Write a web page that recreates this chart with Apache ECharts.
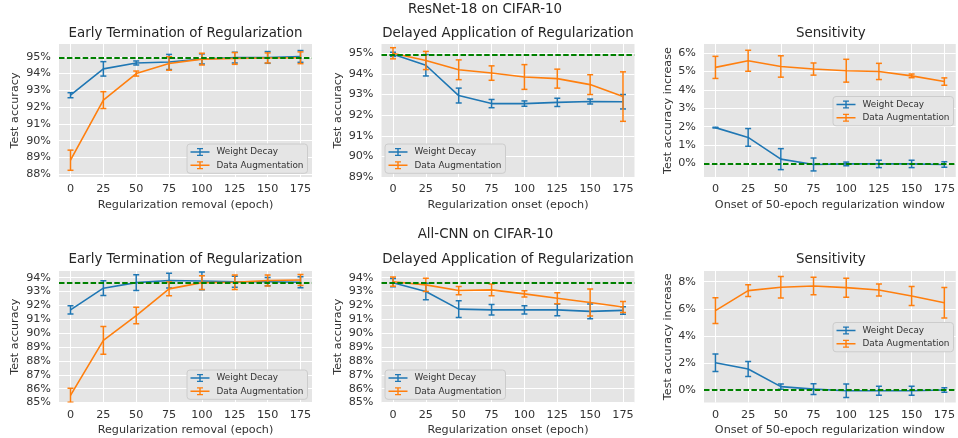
<!DOCTYPE html>
<html><head><meta charset="utf-8">
<script src="https://cdn.jsdelivr.net/npm/echarts@6/dist/echarts.min.js"></script>
<style>html,body{margin:0;padding:0;background:#fff}#c{width:958px;height:438px}</style>
</head><body><div id="c"></div><script>
// ---------- data ----------
const epochs = [0, 25, 50, 75, 100, 125, 150, 175];
const seriesNames = ['Weight Decay', 'Data Augmentation'];
const suptitles = ['ResNet-18 on CIFAR-10', 'All-CNN on CIFAR-10'];
const panelTitles = ['Early Termination of Regularization', 'Delayed Application of Regularization', 'Sensitivity'];
const xNames = ['Regularization removal (epoch)', 'Regularization onset (epoch)', 'Onset of 50-epoch regularization window'];
const yNames = ['Test accuracy', 'Test accuracy', 'Test accuracy increase'];

// ResNet-18
const resnetBaseline = 94.95;
const rEarlyWd = [92.71, 94.28, 94.63, 94.69, 94.87, 94.95, 94.96, 95.02];
const rEarlyWdErr = [0.15, 0.43, 0.12, 0.45, 0.3, 0.32, 0.35, 0.35];
const rEarlyDa = [88.84, 92.42, 94.0, 94.6, 94.86, 94.9, 94.93, 94.94];
const rEarlyDaErr = [0.6, 0.5, 0.15, 0.4, 0.35, 0.35, 0.3, 0.35];
const rDelayWd = [94.95, 94.42, 92.95, 92.56, 92.56, 92.62, 92.66, 92.65];
const rDelayWdErr = [0.1, 0.52, 0.36, 0.2, 0.13, 0.2, 0.12, 0.35];
const rDelayDa = [95.0, 94.65, 94.2, 94.04, 93.85, 93.77, 93.48, 92.9];
const rDelayDaErr = [0.27, 0.44, 0.48, 0.35, 0.6, 0.46, 0.48, 1.2];
const rSensWd = [1.95, 1.42, 0.24, -0.05, -0.02, -0.02, -0.02, -0.05];
const rSensWdErr = [0.02, 0.48, 0.57, 0.35, 0.1, 0.2, 0.2, 0.15];
const rSensDa = [5.22, 5.58, 5.27, 5.13, 5.04, 5.0, 4.76, 4.45];
const rSensDaErr = [0.6, 0.57, 0.58, 0.33, 0.62, 0.44, 0.1, 0.2];

// All-CNN
const allcnnBaseline = 93.64;
const aEarlyWd = [91.68, 93.24, 93.64, 93.79, 93.76, 93.71, 93.71, 93.67];
const aEarlyWdErr = [0.3, 0.53, 0.57, 0.53, 0.64, 0.4, 0.3, 0.4];
const aEarlyDa = [85.52, 89.48, 91.27, 93.19, 93.64, 93.67, 93.79, 93.83];
const aEarlyDaErr = [0.5, 1.0, 0.6, 0.5, 0.5, 0.53, 0.4, 0.4];
const aDelayWd = [93.64, 93.0, 91.73, 91.68, 91.68, 91.68, 91.57, 91.64];
const aDelayWdErr = [0.3, 0.6, 0.6, 0.38, 0.3, 0.43, 0.53, 0.27];
const aDelayDa = [93.71, 93.48, 93.07, 93.12, 92.83, 92.52, 92.21, 91.88];
const aDelayDaErr = [0.33, 0.48, 0.3, 0.42, 0.22, 0.4, 0.98, 0.4];
const aSensWd = [2.02, 1.55, 0.25, 0.07, -0.05, -0.05, -0.05, 0.0];
const aSensWdErr = [0.65, 0.55, 0.2, 0.4, 0.5, 0.33, 0.33, 0.17];
const aSensDa = [5.86, 7.34, 7.59, 7.68, 7.56, 7.39, 6.95, 6.45];
const aSensDaErr = [0.95, 0.43, 0.8, 0.65, 0.7, 0.44, 0.7, 1.13];

// tick labels
const xTicks = [0, 25, 50, 75, 100, 125, 150, 175];
const rEarlyTicks = [88, 89, 90, 91, 92, 93, 94, 95];
const rDelayTicks = [89, 90, 91, 92, 93, 94, 95];
const rSensTicks = [0, 1, 2, 3, 4, 5, 6];
const aAccTicks = [85, 86, 87, 88, 89, 90, 91, 92, 93, 94];
const aSensTicks = [0, 2, 4, 6, 8];

// ---------- layout / style ----------
const FONT = 'DejaVu Sans';
const BLUE = '#1f77b4', ORANGE = '#ff7f0e', GREEN = '#008000';
const TXT = '#333333';
const ICON = 'path://M0,3.3h19v1.4h-19z M8.8,0h1.4v8h-1.4z M6.5,0h6v1.2h-6z M6.5,6.8h6v1.2h-6z';

const panels = [
  {g:[59, 44, 253, 133], y:[87.84, 95.76], yt:rEarlyTicks, t:0, base:resnetBaseline, wd:rEarlyWd, wde:rEarlyWdErr, da:rEarlyDa, dae:rEarlyDaErr, lg:[187, 144], ng:38},
  {g:[381.5, 44, 253, 133], y:[89.0, 95.45], yt:rDelayTicks, t:1, base:resnetBaseline, wd:rDelayWd, wde:rDelayWdErr, da:rDelayDa, dae:rDelayDaErr, lg:[385, 144], ng:37.5},
  {g:[704, 44, 253.5, 133], y:[-0.73, 6.49], yt:rSensTicks, t:2, base:0, wd:rSensWd, wde:rSensWdErr, da:rSensDa, dae:rSensDaErr, lg:[833, 96.5], ng:30},
  {g:[59, 271, 253, 131.5], y:[85.0, 94.48], yt:aAccTicks, t:0, base:allcnnBaseline, wd:aEarlyWd, wde:aEarlyWdErr, da:aEarlyDa, dae:aEarlyDaErr, lg:[187, 370], ng:38},
  {g:[381.5, 271, 253, 131.5], y:[85.0, 94.48], yt:aAccTicks, t:1, base:allcnnBaseline, wd:aDelayWd, wde:aDelayWdErr, da:aDelayDa, dae:aDelayDaErr, lg:[385, 370], ng:37.5},
  {g:[704, 271, 253.5, 131.5], y:[-0.92, 8.79], yt:aSensTicks, t:2, base:0, wd:aSensWd, wde:aSensWdErr, da:aSensDa, dae:aSensDaErr, lg:[833, 322.5], ng:30}
];

const grids = [], xAxes = [], yAxes = [], series = [], legends = [], graphics = [];

function errRender(color) {
  return function (params, api) {
    const x = api.value(0), y = api.value(1), e = api.value(2);
    const top = api.coord([x, y + e]);
    const bot = api.coord([x, y - e]);
    const cap = 3;
    const st = {stroke: color, lineWidth: 1.5};
    return {type: 'group', children: [
      {type: 'line', shape: {x1: top[0], y1: top[1], x2: bot[0], y2: bot[1]}, style: st},
      {type: 'line', shape: {x1: top[0] - cap, y1: top[1], x2: top[0] + cap, y2: top[1]}, style: st},
      {type: 'line', shape: {x1: bot[0] - cap, y1: bot[1], x2: bot[0] + cap, y2: bot[1]}, style: st}
    ]};
  };
}

panels.forEach((p, i) => {
  grids.push({left: p.g[0], top: p.g[1], width: p.g[2], height: p.g[3], show: true,
    backgroundColor: '#E5E5E5', borderWidth: 0, containLabel: false});
  xAxes.push({type: 'value', gridIndex: i, min: -8.75, max: 183.75,
    name: xNames[p.t], nameLocation: 'middle', nameGap: 22.5,
    nameTextStyle: {fontFamily: FONT, fontSize: 11.2, color: TXT},
    axisLine: {show: false}, axisTick: {show: false, customValues: xTicks},
    axisLabel: {customValues: xTicks, fontFamily: FONT, fontSize: 11.2, color: TXT, margin: 7},
    splitLine: {show: true, lineStyle: {color: '#FFFFFF', width: 1}}});
  yAxes.push({type: 'value', gridIndex: i, min: p.y[0], max: p.y[1],
    name: yNames[p.t], nameLocation: 'middle', nameGap: p.ng,
    nameTextStyle: {fontFamily: FONT, fontSize: 11.2, color: TXT},
    axisLine: {show: false}, axisTick: {show: false, customValues: p.yt},
    axisLabel: {customValues: p.yt, formatter: '{value}%', fontFamily: FONT, fontSize: 11.2, color: TXT, margin: 8},
    splitLine: {show: true, lineStyle: {color: '#FFFFFF', width: 1}}});
  const sets = [[p.wd, p.wde, BLUE], [p.da, p.dae, ORANGE]];
  sets.forEach((s, k) => {
    series.push({type: 'line', name: seriesNames[k], xAxisIndex: i, yAxisIndex: i,
      data: epochs.map((x, j) => [x, s[0][j]]), showSymbol: false, symbol: 'none',
      lineStyle: {color: s[2], width: 1.6}, itemStyle: {color: s[2]}, z: 3 + k * 2, silent: true, animation: false,
      markLine: k === 1 ? {silent: true, symbol: 'none', label: {show: false},
        lineStyle: {color: GREEN, width: 1.8, type: [5.5, 2.4]}, data: [{yAxis: p.base}], z: 10, animation: false} : undefined});
    series.push({type: 'custom', name: seriesNames[k], xAxisIndex: i, yAxisIndex: i,
      data: epochs.map((x, j) => [x, s[0][j], s[1][j]]), renderItem: errRender(s[2]),
      clip: true, z: 3 + k * 2, silent: true, animation: false});
  });
  legends.push({orient: 'vertical', left: p.lg[0], top: p.lg[1], itemWidth: 19, itemHeight: 8, itemGap: 2.3,
    padding: [2.5, 4, 2.5, 3.5], backgroundColor: '#E5E5E5', borderColor: '#CCCCCC', borderWidth: 1, borderRadius: 3,
    selectedMode: false, itemStyle: {borderWidth: 0},
    textStyle: {fontFamily: FONT, fontSize: 8.9, color: TXT, lineHeight: 11, padding: [0, 0, 0, 2]},
    data: seriesNames.map(n => ({name: n, icon: ICON}))});
  graphics.push({type: 'text', x: p.g[0] + p.g[2] / 2, y: p.g[1] - (i < 3 ? 10.7 : 11.7),
    style: {text: panelTitles[p.t], fontFamily: FONT, fontSize: 13.4, fill: '#262626', align: 'center', verticalAlign: 'middle'}});
});
graphics.push({type: 'text', x: 485, y: 10, style: {text: suptitles[0], fontFamily: FONT, fontSize: 13.4, fill: '#262626', align: 'center', verticalAlign: 'middle'}});
graphics.push({type: 'text', x: 485.5, y: 235, style: {text: suptitles[1], fontFamily: FONT, fontSize: 13.4, fill: '#262626', align: 'center', verticalAlign: 'middle'}});

const chart = echarts.init(document.getElementById('c'), null, {renderer: 'canvas'});
chart.setOption({animation: false, backgroundColor: '#FFFFFF', grid: grids, xAxis: xAxes, yAxis: yAxes,
  series: series, legend: legends, graphic: graphics, tooltip: {show: false}});
</script></body></html>
